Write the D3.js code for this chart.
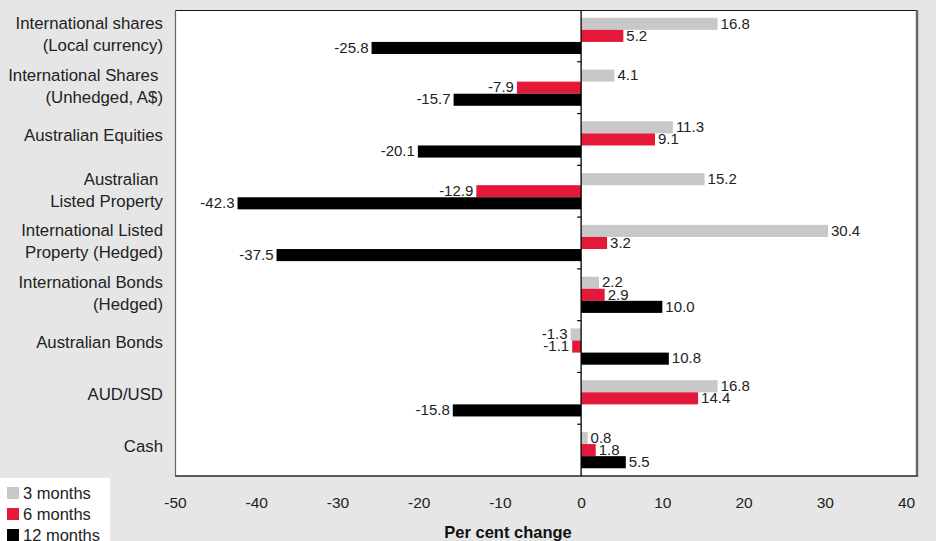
<!DOCTYPE html>
<html><head><meta charset="utf-8">
<script src="https://cdn.jsdelivr.net/npm/d3@7"></script>
<style>
html,body{margin:0;padding:0;background:#e6e6e6;}
svg{display:block;font-family:"Liberation Sans",Arial,sans-serif;}
</style></head>
<body>
<svg id="chart" width="936" height="541"></svg>
<script>
const categories = [
  ["International shares", "(Local currency)"],
  ["International Shares ", "(Unhedged, A$)"],
  ["Australian Equities"],
  ["Australian ", "Listed Property"],
  ["International Listed", "Property (Hedged)"],
  ["International Bonds", "(Hedged)"],
  ["Australian Bonds"],
  ["AUD/USD"],
  ["Cash"]
];
const seriesNames = ["3 months", "6 months", "12 months"];
const months3  = [16.8, 4.1, 11.3, 15.2, 30.4, 2.2, -1.3, 16.8, 0.8];
const months6  = [5.2, -7.9, 9.1, -12.9, 3.2, 2.9, -1.1, 14.4, 1.8];
const months12 = [-25.8, -15.7, -20.1, -42.3, -37.5, 10.0, 10.8, -15.8, 5.5];
const xTicks = [-50, -40, -30, -20, -10, 0, 10, 20, 30, 40];
const colors = ["#c8c8c8", "#e4193a", "#000000"];

const seriesValues = [months3, months6, months12];
const svg = d3.select("#chart");

const frame = {left: 175, right: 917, top: 10, bottom: 476};

const x = d3.scaleLinear().domain([-50, 40]).range([175, 906]);
const catIdx = d3.range(categories.length);
const y = d3.scaleBand().domain(catIdx).range([frame.top, frame.bottom])
  .paddingInner(0.3).paddingOuter(0.15);
const ySub = d3.scaleBand().domain(d3.range(seriesNames.length)).range([0, y.bandwidth()]);

// plot frame
svg.append("rect").attr("x", frame.left).attr("y", frame.top)
  .attr("width", frame.right - frame.left).attr("height", frame.bottom - frame.top)
  .attr("fill", "#fff");
svg.append("line").attr("x1", frame.left).attr("x2", frame.right).attr("y1", frame.top + 0.5).attr("y2", frame.top + 0.5)
  .attr("stroke", "#111").attr("stroke-width", 1.2);
svg.append("line").attr("x1", frame.left + 0.5).attr("x2", frame.left + 0.5).attr("y1", frame.top).attr("y2", frame.bottom)
  .attr("stroke", "#666").attr("stroke-width", 1.2);
svg.append("line").attr("x1", frame.right).attr("x2", frame.right).attr("y1", frame.top).attr("y2", frame.bottom + 1)
  .attr("stroke", "#6a6a6a").attr("stroke-width", 2.5);
svg.append("line").attr("x1", frame.left).attr("x2", frame.right + 1).attr("y1", frame.bottom).attr("y2", frame.bottom)
  .attr("stroke", "#5a5a5a").attr("stroke-width", 2.2);

// bars
const rows = [];
catIdx.forEach(i => seriesValues.forEach((vals, s) => rows.push({i, s, v: vals[i]})));

svg.append("g").selectAll("rect").data(rows).join("rect")
  .attr("x", d => x(Math.min(0, d.v)))
  .attr("width", d => Math.abs(x(d.v) - x(0)))
  .attr("y", d => y(d.i) + ySub(d.s))
  .attr("height", ySub.bandwidth())
  .attr("fill", d => colors[d.s]);

// value labels
svg.append("g").selectAll("text").data(rows).join("text")
  .attr("x", d => d.v >= 0 ? x(d.v) + 3 : x(d.v) - 3)
  .attr("y", d => y(d.i) + ySub(d.s) + ySub.bandwidth() / 2 - 0.5)
  .attr("dy", "0.35em")
  .attr("text-anchor", d => d.v >= 0 ? "start" : "end")
  .attr("font-size", 15).attr("fill", "#222")
  .text(d => d3.format(".1f")(d.v).replace("−", "-"));

// zero line with category separators
const step = y.step();
svg.append("line").attr("x1", x(0)).attr("x2", x(0)).attr("y1", frame.top).attr("y2", frame.bottom)
  .attr("stroke", "#000").attr("stroke-width", 1.3);
svg.append("g").selectAll("line").data(catIdx.slice(1)).join("line")
  .attr("x1", x(0) - 4).attr("x2", x(0))
  .attr("y1", d => y(d) - step * y.paddingInner() / 2)
  .attr("y2", d => y(d) - step * y.paddingInner() / 2)
  .attr("stroke", "#000").attr("stroke-width", 1.2);

// category labels
const catG = svg.append("g").attr("font-size", 16.8).attr("fill", "#222").attr("text-anchor", "end");
catIdx.forEach(i => {
  const lines = categories[i];
  const cy = y(i) + y.bandwidth() / 2 + (lines.length === 1 ? -4 : -1.5);
  const t = catG.append("text").attr("x", 163).attr("y", cy).style("white-space", "pre");
  lines.forEach((ln, k) => {
    t.append("tspan").attr("x", 163)
      .attr("y", cy + (k - (lines.length - 1) / 2) * 22)
      .attr("dy", "0.35em").text(ln);
  });
});

// x axis tick labels
const xAxis = d3.axisBottom(x).tickValues(xTicks).tickSize(0).tickPadding(0)
  .tickFormat(d => String(d));
const gx = svg.append("g").attr("transform", `translate(0, 497)`).call(xAxis);
gx.select(".domain").remove();
gx.selectAll("text").attr("font-size", 15.5).attr("fill", "#222")
  .attr("font-family", "Liberation Sans, Arial, sans-serif").attr("dy", "0.71em");

svg.append("text").attr("x", 508).attr("y", 538).attr("text-anchor", "middle")
  .attr("font-size", 16.5).attr("font-weight", "bold").attr("fill", "#111")
  .text("Per cent change");

// legend
svg.append("rect").attr("x", 0).attr("y", 478).attr("width", 110).attr("height", 63).attr("fill", "#fff");
const lg = svg.append("g").selectAll("g").data(seriesNames).join("g")
  .attr("transform", (d, i) => `translate(7, ${493 + i * 21})`);
lg.append("rect").attr("x", 0).attr("y", -6).attr("width", 12).attr("height", 12)
  .attr("fill", (d, i) => colors[i]);
lg.append("text").attr("x", 16).attr("y", 0).attr("dy", "0.35em")
  .attr("font-size", 16.5).attr("fill", "#222").text(d => d);
</script>
</body></html>
